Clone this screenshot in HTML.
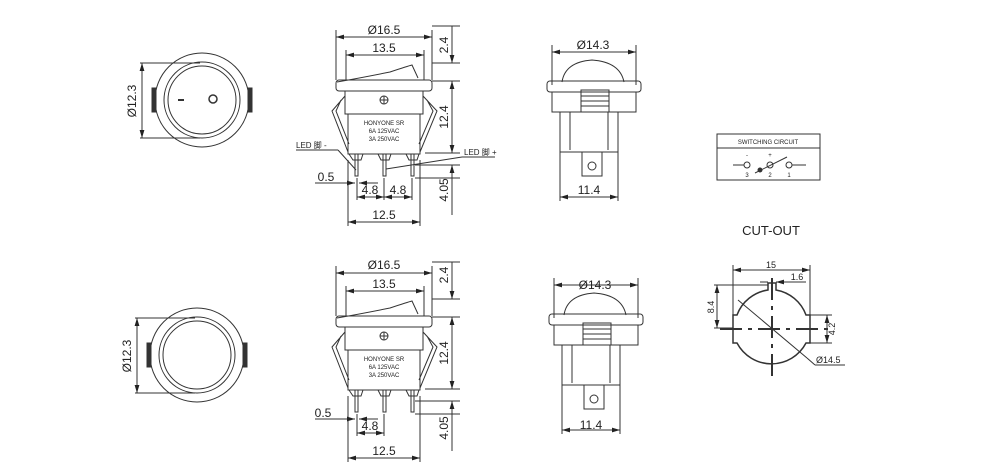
<!DOCTYPE html>
<html><head><meta charset="utf-8"><style>
html,body{margin:0;padding:0;background:#fff;width:998px;height:476px;overflow:hidden}
svg{display:block}
text{font-family:"Liberation Sans","Noto Sans CJK SC",sans-serif;fill:#222}
</style></head><body>
<svg width="998" height="476" viewBox="0 0 998 476" xmlns="http://www.w3.org/2000/svg">
<defs>
<marker id="a" viewBox="0 0 10 6" refX="10" refY="3" markerWidth="8" markerHeight="5" orient="auto-start-reverse"><path d="M0,0L10,3L0,6z" fill="#222"/></marker>
</defs>
<g fill="none" stroke="#333" stroke-width="1">
<circle cx="202" cy="100" r="47"/><circle cx="202" cy="100" r="38"/><circle cx="202" cy="100" r="34"/>
<rect x="152" y="88" width="4" height="24" fill="#333"/><rect x="248" y="88" width="4" height="24" fill="#333"/>
<line x1="178" y1="100" x2="184" y2="100" stroke-width="2"/><circle cx="213" cy="99" r="4" stroke-width="1.5"/>
<line x1="140" y1="63" x2="200" y2="63"/><line x1="140" y1="138" x2="200" y2="138"/>
<line x1="142" y1="63" x2="142" y2="138" marker-start="url(#a)" marker-end="url(#a)"/>
<circle cx="197" cy="355" r="47"/><circle cx="197" cy="355" r="38"/><circle cx="197" cy="355" r="34"/>
<rect x="147" y="343" width="4" height="24" fill="#333"/><rect x="243" y="343" width="4" height="24" fill="#333"/>
<line x1="135" y1="318" x2="195" y2="318"/><line x1="135" y1="393" x2="195" y2="393"/>
<line x1="137" y1="318" x2="137" y2="393" marker-start="url(#a)" marker-end="url(#a)"/>

<g id="sv">
<line x1="336" y1="30" x2="336" y2="80"/><line x1="432" y1="30" x2="432" y2="80"/>
<line x1="336" y1="37" x2="432" y2="37" marker-start="url(#a)" marker-end="url(#a)"/>
<line x1="346" y1="50" x2="346" y2="80"/><line x1="424" y1="50" x2="424" y2="80"/>
<line x1="346" y1="55" x2="424" y2="55" marker-start="url(#a)" marker-end="url(#a)"/>
<path d="M337,82 Q360,78 390,72 Q408,66 412,65 L418,78 M346,80 L420,80"/>
<rect x="336" y="80" width="96" height="11" rx="3"/>
<rect x="345" y="91" width="78" height="23"/>
<rect x="348" y="114" width="72" height="40"/>
<circle cx="384" cy="100" r="4"/><line x1="380" y1="100" x2="388" y2="100"/><line x1="384" y1="96" x2="384" y2="104"/>
<path d="M345,96 L332,111 L348,152 M341,100 L336,111 L349,144"/>
<path d="M423,96 L437,111 L420,152 M427,100 L433,111 L419,144"/>
<path d="M349,154 L353,160 L361,160 L363,154 M378,154 L381,160 L389,160 L391,154 M406,154 L409,160 L417,160 L419,154"/>
<rect x="355" y="154" width="3" height="22"/><rect x="383" y="154" width="3" height="22"/><rect x="411" y="154" width="3" height="22"/>
<line x1="348" y1="160" x2="348" y2="226"/><line x1="420" y1="160" x2="420" y2="226"/>
<line x1="348" y1="222" x2="420" y2="222" marker-start="url(#a)" marker-end="url(#a)"/>
<line x1="357" y1="178" x2="357" y2="200"/><line x1="384" y1="178" x2="384" y2="200"/>
<line x1="357" y1="197" x2="384" y2="197" marker-start="url(#a)" marker-end="url(#a)"/>
<line x1="315" y1="183" x2="355" y2="183" marker-end="url(#a)"/><line x1="378" y1="183" x2="359" y2="183" marker-end="url(#a)"/>
<line x1="432" y1="26" x2="460" y2="26"/><line x1="432" y1="63" x2="460" y2="63"/><line x1="432" y1="81" x2="460" y2="81"/>
<line x1="425" y1="153" x2="460" y2="153"/><line x1="415" y1="165" x2="460" y2="165"/><line x1="415" y1="178" x2="460" y2="178"/>
<line x1="452" y1="26" x2="452" y2="63" marker-end="url(#a)"/>
<line x1="452" y1="81" x2="452" y2="153" marker-start="url(#a)" marker-end="url(#a)"/>
<line x1="452" y1="165" x2="452" y2="215" marker-start="url(#a)"/>
</g>
<use href="#sv" transform="translate(0,236)"/>
<line x1="412" y1="178" x2="412" y2="200"/>
<line x1="384" y1="197" x2="412" y2="197" marker-start="url(#a)" marker-end="url(#a)"/>

<g id="rv">
<line x1="552" y1="45" x2="552" y2="85"/><line x1="636" y1="45" x2="636" y2="85"/>
<line x1="552" y1="52" x2="636" y2="52" marker-start="url(#a)" marker-end="url(#a)"/>
<path d="M562,82 Q565,62 592,60 Q620,62 624,82"/>
<rect x="547" y="81" width="94" height="11" rx="3"/>
<path d="M552,92 L552,112 L636,112 L636,92"/>
<rect x="581" y="90" width="28" height="22"/>
<line x1="581" y1="96" x2="609" y2="96"/><line x1="581" y1="101" x2="609" y2="101"/><line x1="581" y1="106" x2="609" y2="106"/>
<rect x="560" y="112" width="58" height="40"/>
<line x1="570" y1="112" x2="570" y2="150"/><line x1="608" y1="112" x2="608" y2="150"/>
<rect x="582" y="152" width="20" height="24"/><circle cx="592" cy="166" r="4"/>
<line x1="560" y1="152" x2="560" y2="201"/><line x1="618" y1="152" x2="618" y2="201"/>
<line x1="560" y1="197" x2="618" y2="197" marker-start="url(#a)" marker-end="url(#a)"/>
</g>
<use href="#rv" transform="translate(2,233)"/>

<rect x="717" y="134" width="103" height="46"/><line x1="717" y1="148" x2="820" y2="148"/>
<line x1="733" y1="165" x2="744" y2="165"/><circle cx="747" cy="165" r="3"/>
<circle cx="770" cy="165" r="3"/><circle cx="789" cy="165" r="3"/><line x1="792" y1="165" x2="806" y2="165"/>
<line x1="755" y1="173" x2="787" y2="157"/><circle cx="760" cy="170" r="2" fill="#333"/>

<path d="M733,315 L737,315 A39,39 0 0 1 768,290 L768,283 L776,283 L776,290 A39,39 0 0 1 806,315 L810,315 L810,343 L806,343 A39,39 0 0 1 737,343 L733,343 Z" stroke-width="1.5"/>
<line x1="772" y1="278" x2="772" y2="380" stroke-width="2" stroke-dasharray="22,6,4,6"/>
<line x1="720" y1="329" x2="830" y2="329" stroke-width="2" stroke-dasharray="22,6,4,6"/>
<line x1="733" y1="265" x2="733" y2="315"/><line x1="810" y1="265" x2="810" y2="315"/>
<line x1="733" y1="270" x2="810" y2="270" marker-start="url(#a)" marker-end="url(#a)"/>
<line x1="768" y1="282" x2="760" y2="282"/><line x1="776" y1="282" x2="806" y2="282" marker-start="url(#a)"/>
<line x1="714" y1="285" x2="768" y2="285"/><line x1="714" y1="328" x2="733" y2="328"/>
<line x1="717" y1="285" x2="717" y2="328" marker-start="url(#a)" marker-end="url(#a)"/>
<line x1="810" y1="315" x2="832" y2="315"/><line x1="810" y1="343" x2="832" y2="343"/>
<line x1="827" y1="315" x2="827" y2="343" marker-start="url(#a)" marker-end="url(#a)"/>
<line x1="738" y1="300" x2="807" y2="358"/><line x1="807" y1="358" x2="815" y2="365"/><line x1="815" y1="365" x2="845" y2="365"/>

<line x1="296" y1="150" x2="338" y2="150"/><line x1="338" y1="150" x2="356" y2="170"/>
<line x1="462" y1="157" x2="495" y2="157"/><line x1="462" y1="157" x2="386" y2="169"/>
</g>

<g font-size="12">
<text transform="translate(136,101) rotate(-90)" text-anchor="middle">Ø12.3</text>
<text transform="translate(131,356) rotate(-90)" text-anchor="middle">Ø12.3</text>
<text x="384" y="34" text-anchor="middle">Ø16.5</text><text x="384" y="52" text-anchor="middle">13.5</text>
<text x="384" y="269" text-anchor="middle">Ø16.5</text><text x="384" y="288" text-anchor="middle">13.5</text>
<text x="384" y="219" text-anchor="middle">12.5</text><text x="384" y="455" text-anchor="middle">12.5</text>
<text x="370" y="194" text-anchor="middle">4.8</text><text x="398" y="194" text-anchor="middle">4.8</text>
<text x="370" y="430" text-anchor="middle">4.8</text>
<text x="326" y="181" text-anchor="middle">0.5</text><text x="323" y="417" text-anchor="middle">0.5</text>
<text transform="translate(448,45) rotate(-90)" text-anchor="middle">2.4</text>
<text transform="translate(448,117) rotate(-90)" text-anchor="middle">12.4</text>
<text transform="translate(448,190) rotate(-90)" text-anchor="middle">4.05</text>
<text transform="translate(448,275) rotate(-90)" text-anchor="middle">2.4</text>
<text transform="translate(448,353) rotate(-90)" text-anchor="middle">12.4</text>
<text transform="translate(448,428) rotate(-90)" text-anchor="middle">4.05</text>
<text x="593" y="49" text-anchor="middle">Ø14.3</text><text x="589" y="194" text-anchor="middle">11.4</text>
<text x="595" y="289" text-anchor="middle">Ø14.3</text><text x="591" y="429" text-anchor="middle">11.4</text>
<text x="771" y="235" text-anchor="middle" font-size="13">CUT-OUT</text>
</g>
<g font-size="9">
<text x="771" y="268" text-anchor="middle">15</text><text x="797" y="280" text-anchor="middle">1.6</text>
<text transform="translate(714,307) rotate(-90)" text-anchor="middle">8.4</text>
<text transform="translate(835,329) rotate(-90)" text-anchor="middle">4.2</text>
<text x="816" y="363">Ø14.5</text>
</g>
<g font-size="6">
<text x="384" y="125" text-anchor="middle">HONYONE SR</text>
<text x="384" y="133" text-anchor="middle">6A  125VAC</text>
<text x="384" y="141" text-anchor="middle">3A  250VAC</text>
<text x="384" y="361" text-anchor="middle">HONYONE SR</text>
<text x="384" y="369" text-anchor="middle">6A  125VAC</text>
<text x="384" y="377" text-anchor="middle">3A  250VAC</text>
<text x="768" y="144" text-anchor="middle">SWITCHING CIRCUIT</text>
<text x="747" y="157" text-anchor="middle">-</text><text x="770" y="157" text-anchor="middle">+</text>
<text x="747" y="177" text-anchor="middle">3</text><text x="770" y="177" text-anchor="middle">2</text><text x="789" y="177" text-anchor="middle">1</text>
</g>
<g font-size="8">
<text x="296" y="148">LED 脚 -</text><text x="464" y="155">LED 脚 +</text>
</g>
</svg>
</body></html>
